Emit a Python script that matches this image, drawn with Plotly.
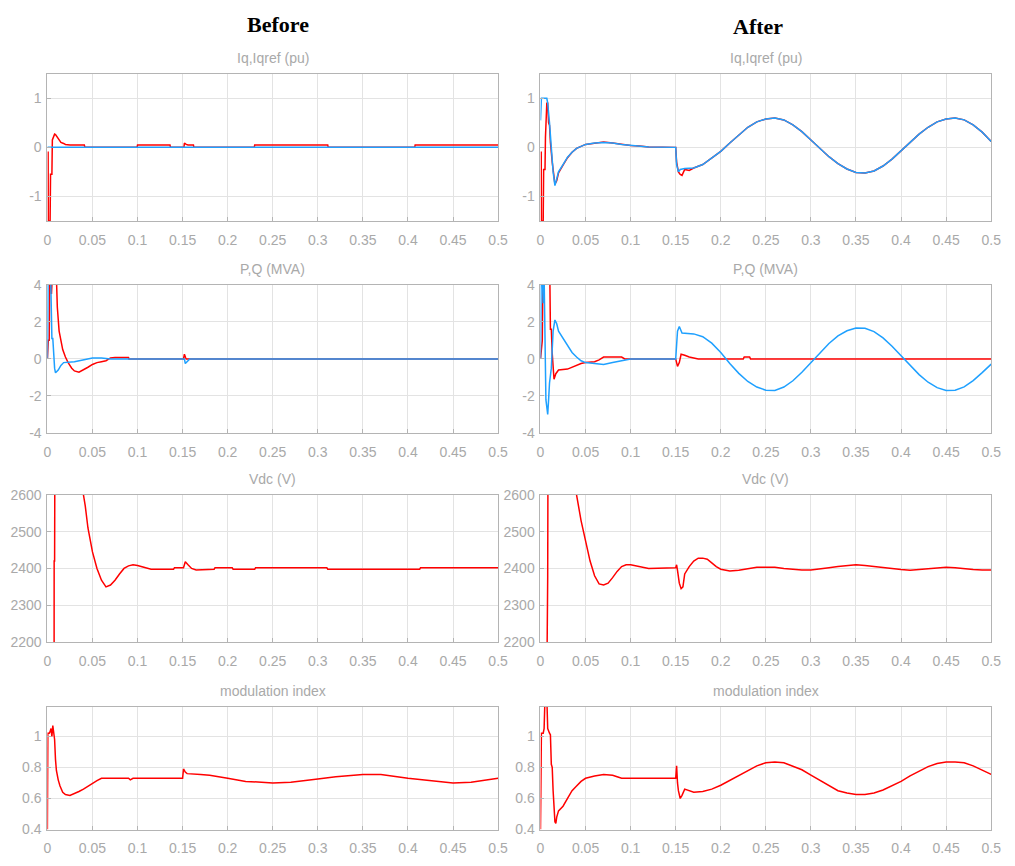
import plotly.graph_objects as go

RED = "#ff0000"
BLUE = "#1ea0ff"
GRID = "#e3e3e3"
FRAME = "#b4b4b4"
TXT = "#a9a9a9"
FONT = "Liberation Sans Narrow, Arial Narrow, Liberation Sans, Arial"

# ---------------- Before: Iq, Iqref ----------------
t_iq_b = [0, 0.0008, 0.001, 0.003, 0.0035, 0.004, 0.005, 0.0055, 0.006, 0.007, 0.008, 0.009,
          0.011, 0.013, 0.015, 0.018, 0.02, 0.025, 0.03, 0.041, 0.0415,
          0.0995, 0.1, 0.136, 0.1365, 0.1515, 0.152, 0.154, 0.156, 0.162, 0.1625,
          0.2295, 0.23, 0.311, 0.3115, 0.4075, 0.408, 0.5]
iq_b = [-0.1, -0.1, -1.5, -1.5, -0.55, -0.55, -0.55, 0.15, 0.18, 0.22, 0.27, 0.26,
        0.2, 0.14, 0.1, 0.08, 0.06, 0.05, 0.05, 0.05, 0.0,
        0.0, 0.05, 0.05, 0.0, 0.0, 0.09, 0.06, 0.05, 0.05, 0.0,
        0.0, 0.05, 0.05, 0.0, 0.0, 0.05, 0.05]
t_iqref_b = [0, 0.5]
iqref_b = [0, 0]

# ---------------- After: Iq, Iqref ----------------
t_iqref_a = [0, 0.001, 0.007, 0.008, 0.01, 0.012, 0.014, 0.016, 0.018, 0.02, 0.025, 0.03,
             0.035, 0.04, 0.05, 0.06, 0.07, 0.08, 0.09, 0.1, 0.11, 0.12, 0.15,
             0.151, 0.153, 0.155, 0.16, 0.17, 0.18, 0.19, 0.2, 0.21, 0.22, 0.23, 0.24,
             0.25, 0.26, 0.27, 0.28, 0.29, 0.3, 0.31, 0.32, 0.33, 0.34, 0.35, 0.36, 0.37,
             0.38, 0.39, 0.4, 0.41, 0.42, 0.43, 0.44, 0.45, 0.46, 0.47, 0.48, 0.49, 0.5]
iqref_a = [0.55, 1.0, 1.0, 0.9, 0.5, 0.0, -0.5, -0.78, -0.65, -0.5, -0.35, -0.2,
           -0.1, -0.02, 0.06, 0.09, 0.1, 0.09, 0.06, 0.04, 0.02, 0.01, 0.0,
           -0.35, -0.5, -0.45, -0.43, -0.42, -0.35, -0.22, -0.08, 0.09, 0.26, 0.41, 0.52,
           0.58, 0.6, 0.56, 0.46, 0.32, 0.15, -0.02, -0.19, -0.33, -0.44, -0.51, -0.52, -0.48,
           -0.38, -0.24, -0.07, 0.1, 0.27, 0.41, 0.52, 0.58, 0.6, 0.56, 0.46, 0.31, 0.12]
t_iq_a = [0, 0.0008, 0.001, 0.003, 0.0035, 0.005, 0.0055, 0.007, 0.008, 0.009, 0.01, 0.011,
          0.013, 0.015, 0.016, 0.018, 0.02, 0.025, 0.03, 0.035, 0.04, 0.05, 0.06, 0.07,
          0.08, 0.09, 0.1, 0.11, 0.12, 0.15, 0.151, 0.153, 0.155, 0.157, 0.16, 0.165, 0.17,
          0.18, 0.19, 0.2, 0.21, 0.22, 0.23, 0.24, 0.25, 0.26, 0.27, 0.28, 0.29, 0.3, 0.31,
          0.32, 0.33, 0.34, 0.35, 0.36, 0.37, 0.38, 0.39, 0.4, 0.41, 0.42, 0.43, 0.44,
          0.45, 0.46, 0.47, 0.48, 0.49, 0.5]
iq_a = [-0.1, -0.1, -1.5, -1.5, -0.45, -0.45, 0.2, 0.9, 0.9, 0.5, 0.45, 0.1,
        -0.3, -0.65, -0.75, -0.68, -0.52, -0.36, -0.21, -0.1, -0.02, 0.06, 0.09, 0.11,
        0.09, 0.06, 0.04, 0.03, 0.01, 0.0, -0.3, -0.5, -0.55, -0.57, -0.45, -0.47, -0.42,
        -0.35, -0.22, -0.08, 0.09, 0.26, 0.41, 0.52, 0.58, 0.6, 0.56, 0.46, 0.32, 0.15,
        -0.02, -0.19, -0.33, -0.44, -0.51, -0.52, -0.48, -0.38, -0.24, -0.07, 0.1, 0.27,
        0.41, 0.52, 0.58, 0.6, 0.56, 0.46, 0.31, 0.12]

# ---------------- Before: P, Q ----------------
t_p_b = [0, 0.001, 0.002, 0.003, 0.0045, 0.0055, 0.007, 0.009, 0.01, 0.011, 0.013, 0.015,
         0.017, 0.02, 0.023, 0.027, 0.03, 0.035, 0.04, 0.045, 0.05, 0.055, 0.06, 0.065,
         0.07, 0.075, 0.09, 0.0905, 0.151, 0.152, 0.1535, 0.154, 0.5]
p_b = [0, 1.0, 1.0, 6.0, 3.5, 6.0, 6.0, 6.0, 4.0, 2.8, 1.5, 0.9,
       0.5, 0.1, -0.2, -0.5, -0.65, -0.72, -0.6, -0.45, -0.3, -0.2, -0.15, -0.1,
       0.05, 0.08, 0.08, 0.0, 0.0, 0.25, 0.05, 0.0, 0.0]
t_q_b = [0, 0.001, 0.003, 0.004, 0.005, 0.006, 0.007, 0.008, 0.009, 0.012, 0.015, 0.018,
         0.03, 0.04, 0.05, 0.06, 0.07, 0.152, 0.153, 0.156, 0.158, 0.5]
q_b = [0, 6.0, 6.0, 3.3, 1.1, 1.1, 0.2, -0.5, -0.75, -0.6, -0.35, -0.2,
       -0.15, -0.05, 0.05, 0.05, 0.0, 0.0, -0.25, -0.1, 0.0, 0.0]

# ---------------- After: P, Q ----------------
t_p_a = [0, 0.0015, 0.002, 0.003, 0.01, 0.011, 0.012, 0.013, 0.014, 0.015, 0.017, 0.02,
         0.03, 0.035, 0.04, 0.045, 0.05, 0.06, 0.065, 0.07, 0.09, 0.0935, 0.15, 0.152,
         0.154, 0.156, 0.16, 0.165, 0.17, 0.175, 0.225, 0.226, 0.232, 0.233, 0.5]
p_a = [0, 1.0, 1.0, 6.0, 6.0, 1.6, 1.6, 0.3, -0.5, -1.1, -0.8, -0.6,
       -0.55, -0.45, -0.35, -0.25, -0.2, -0.15, -0.05, 0.1, 0.1, 0.0, 0.0, -0.4,
       -0.2, 0.25, 0.2, 0.1, 0.05, 0.0, 0.0, 0.1, 0.1, 0.0, 0.0]
t_q_a = [0, 0.001, 0.003, 0.004, 0.006, 0.008, 0.009, 0.01, 0.012, 0.014, 0.016, 0.018,
         0.02, 0.025, 0.03, 0.035, 0.04, 0.045, 0.05, 0.06, 0.07, 0.08, 0.09, 0.1, 0.15,
         0.152, 0.154, 0.157, 0.17, 0.18, 0.19, 0.2, 0.21, 0.22, 0.23, 0.24, 0.25, 0.26,
         0.27, 0.28, 0.29, 0.3, 0.31, 0.32, 0.33, 0.34, 0.35, 0.36, 0.37, 0.38, 0.39, 0.4,
         0.41, 0.42, 0.43, 0.44, 0.45, 0.46, 0.47, 0.48, 0.49, 0.5]
q_a = [0, 6.0, 3.0, 4.5, -2.2, -3.0, -2.2, -1.3, -0.5, 1.5, 2.1, 1.9,
       1.5, 1.1, 0.7, 0.35, 0.1, -0.1, -0.2, -0.25, -0.3, -0.2, -0.1, 0.0, 0.0,
       1.5, 1.75, 1.4, 1.35, 1.2, 0.85, 0.35, -0.25, -0.78, -1.22, -1.52, -1.69, -1.7,
       -1.52, -1.18, -0.72, -0.2, 0.33, 0.83, 1.24, 1.52, 1.67, 1.65, 1.47, 1.13, 0.68,
       0.17, -0.36, -0.85, -1.26, -1.55, -1.7, -1.69, -1.51, -1.17, -0.74, -0.28]

# ---------------- Before: Vdc ----------------
t_vdc_b = [0, 0.007, 0.0075, 0.008, 0.0085, 0.02, 0.035, 0.04, 0.042, 0.045, 0.05, 0.055,
           0.06, 0.065, 0.07, 0.075, 0.08, 0.085, 0.09, 0.095, 0.1, 0.11, 0.115, 0.14,
           0.141, 0.151, 0.153, 0.156, 0.16, 0.165, 0.175, 0.176, 0.185, 0.186, 0.205,
           0.206, 0.23, 0.231, 0.31, 0.311, 0.413, 0.414, 0.5]
vdc_b = [0, 0, 2420, 2420, 2900, 3000, 2750, 2600, 2570, 2510, 2445, 2400,
         2368, 2350, 2355, 2368, 2385, 2400, 2407, 2410, 2408, 2402, 2398, 2398,
         2402, 2402, 2418, 2410, 2400, 2396, 2396, 2398, 2398, 2402, 2402,
         2398, 2398, 2402, 2402, 2398, 2398, 2402, 2402]

# ---------------- After: Vdc ----------------
t_vdc_a = [0, 0.007, 0.0075, 0.008, 0.0085, 0.02, 0.035, 0.04, 0.045, 0.05, 0.055, 0.06,
           0.065, 0.07, 0.075, 0.08, 0.085, 0.09, 0.095, 0.1, 0.11, 0.12, 0.15, 0.151,
           0.152, 0.154, 0.156, 0.158, 0.16, 0.165, 0.17, 0.175, 0.18, 0.185, 0.19, 0.195,
           0.2, 0.21, 0.22, 0.23, 0.24, 0.25, 0.26, 0.27, 0.28, 0.29, 0.3, 0.31, 0.32,
           0.33, 0.34, 0.35, 0.36, 0.37, 0.38, 0.39, 0.4, 0.41, 0.42, 0.43, 0.44, 0.45,
           0.46, 0.47, 0.48, 0.49, 0.5]
vdc_a = [0, 0, 2380, 2380, 2900, 3000, 2750, 2600, 2530, 2470, 2420, 2380,
         2358, 2355, 2360, 2375, 2392, 2405, 2410, 2410, 2405, 2400, 2402, 2410,
         2395, 2360, 2345, 2350, 2385, 2405, 2420, 2428, 2428, 2425, 2415, 2405,
         2398, 2393, 2395, 2400, 2403, 2403, 2403, 2400, 2397, 2396, 2396, 2398, 2402,
         2405, 2407, 2410, 2408, 2405, 2402, 2398, 2397, 2395, 2397, 2400, 2403, 2403,
         2402, 2399, 2397, 2396, 2396]

# ---------------- Before: modulation index ----------------
t_m_b = [0, 0.0005, 0.002, 0.003, 0.004, 0.005, 0.006, 0.007, 0.008, 0.009, 0.01, 0.012,
         0.014, 0.017, 0.02, 0.025, 0.03, 0.035, 0.04, 0.045, 0.05, 0.055, 0.06, 0.09,
         0.092, 0.095, 0.15, 0.151, 0.153, 0.155, 0.17, 0.18, 0.2, 0.22, 0.25, 0.27,
         0.3, 0.32, 0.35, 0.37, 0.4, 0.43, 0.45, 0.47, 0.5]
m_b = [0.4, 1.02, 1.02, 1.03, 1.05, 1.0, 1.07, 1.0, 0.98, 0.85, 0.78, 0.72,
       0.68, 0.64, 0.625, 0.62, 0.63, 0.645, 0.66, 0.68, 0.7, 0.715, 0.73, 0.73,
       0.72, 0.73, 0.73, 0.79, 0.77, 0.76, 0.755, 0.75, 0.73, 0.71, 0.7, 0.705,
       0.725, 0.74, 0.755, 0.755, 0.73, 0.71, 0.7, 0.705, 0.73]

# ---------------- After: modulation index ----------------
t_m_a = [0, 0.001, 0.003, 0.004, 0.005, 0.007, 0.0075, 0.008, 0.01, 0.011, 0.012, 0.013,
         0.014, 0.015, 0.016, 0.017, 0.018, 0.02, 0.025, 0.03, 0.035, 0.04, 0.045, 0.05,
         0.06, 0.07, 0.08, 0.085, 0.09, 0.15, 0.1505, 0.151, 0.152, 0.153, 0.155, 0.157,
         0.16, 0.165, 0.17, 0.18, 0.19, 0.2, 0.21, 0.22, 0.23, 0.24, 0.25, 0.26, 0.27,
         0.28, 0.29, 0.3, 0.31, 0.32, 0.33, 0.34, 0.35, 0.36, 0.37, 0.38, 0.39, 0.4,
         0.41, 0.42, 0.43, 0.44, 0.45, 0.46, 0.47, 0.48, 0.49, 0.5]
m_a = [0.4, 1.02, 1.02, 1.05, 1.25, 1.25, 1.15, 1.05, 1.02, 1.01, 0.82, 0.8,
       0.65, 0.55, 0.45, 0.44, 0.48, 0.52, 0.55, 0.6, 0.65, 0.68, 0.71, 0.73,
       0.745, 0.755, 0.75, 0.74, 0.73, 0.73, 0.81, 0.81, 0.7, 0.65, 0.6, 0.62,
       0.66, 0.65, 0.64, 0.645, 0.66, 0.685, 0.715, 0.75, 0.78, 0.81, 0.83, 0.835, 0.83,
       0.81, 0.785, 0.75, 0.715, 0.68, 0.65, 0.635, 0.625, 0.625, 0.635, 0.655, 0.68, 0.71,
       0.745, 0.775, 0.805, 0.825, 0.835, 0.835, 0.83, 0.81, 0.785, 0.755]

# ---------------- Axes ----------------
x_ticks = [0, 0.05, 0.1, 0.15, 0.2, 0.25, 0.3, 0.35, 0.4, 0.45, 0.5]
x_tick_text = ["0", "0.05", "0.1", "0.15", "0.2", "0.25", "0.3", "0.35", "0.4", "0.45", "0.5"]

W, H = 1015, 866
col_px = [(44, 501), (544, 1001)]
row_px = [(67, 217), (282, 433), (496, 646), (712, 837)]
row_titles = ["Iq,Iqref (pu)", "P,Q (MVA)", "Vdc (V)", "modulation index"]
row_ranges = [[-1.5, 1.5], [-4, 4], [2200, 2600], [0.4, 1.19]]
row_ticks = [[-1, 0, 1], [-4, -2, 0, 2, 4], [2200, 2300, 2400, 2500, 2600], [0.4, 0.6, 0.8, 1]]
row_tick_text = [["-1", "0", "1"], ["-4", "-2", "0", "2", "4"],
                 ["2200", "2300", "2400", "2500", "2600"], ["0.4", "0.6", "0.8", "1"]]

panels = {
    (0, 0): [(t_iq_b, iq_b, RED), (t_iqref_b, iqref_b, BLUE)],
    (0, 1): [(t_iq_a, iq_a, RED), (t_iqref_a, iqref_a, BLUE)],
    (1, 0): [(t_p_b, p_b, RED), (t_q_b, q_b, BLUE)],
    (1, 1): [(t_p_a, p_a, RED), (t_q_a, q_a, BLUE)],
    (2, 0): [(t_vdc_b, vdc_b, RED)],
    (2, 1): [(t_vdc_a, vdc_a, RED)],
    (3, 0): [(t_m_b, m_b, RED)],
    (3, 1): [(t_m_a, m_a, RED)],
}

fig = go.Figure()
layout = dict(
    width=W, height=H, margin=dict(l=0, r=0, t=0, b=0),
    paper_bgcolor="white", plot_bgcolor="white", showlegend=False,
    font=dict(family=FONT, color=TXT, size=14),
)
annotations = []

idx = 0
for r in range(4):
    for c in range(2):
        idx += 1
        xa = "xaxis" if idx == 1 else f"xaxis{idx}"
        ya = "yaxis" if idx == 1 else f"yaxis{idx}"
        xref = "x" if idx == 1 else f"x{idx}"
        yref = "y" if idx == 1 else f"y{idx}"
        x0, x1 = col_px[c]
        y0, y1 = row_px[r]
        layout[xa] = dict(
            domain=[x0 / W, x1 / W], anchor=yref, range=[0, 0.5],
            tickvals=x_ticks, ticktext=x_tick_text, showgrid=True, gridcolor=GRID,
            gridwidth=1, zeroline=False, showline=True, linecolor=FRAME, linewidth=1,
            mirror=True, ticks="inside", ticklen=4, tickcolor=FRAME,
            ticklabelstandoff=6,
            tickfont=dict(family=FONT, color=TXT, size=14),
        )
        layout[ya] = dict(
            domain=[1 - y1 / H, 1 - y0 / H], anchor=xref, range=row_ranges[r],
            tickvals=row_ticks[r], ticktext=row_tick_text[r], showgrid=True, gridcolor=GRID,
            gridwidth=1, zeroline=False, showline=True, linecolor=FRAME, linewidth=1,
            mirror=True, ticks="inside", ticklen=4, tickcolor=FRAME,
            ticklabelstandoff=2,
            tickfont=dict(family=FONT, color=TXT, size=14),
        )
        for tx, ty, color in panels[(r, c)]:
            fig.add_trace(go.Scatter(
                x=tx, y=ty, mode="lines", xaxis=xref, yaxis=yref,
                line=dict(color=color, width=1.5, shape="linear"),
                hoverinfo="skip", cliponaxis=True,
            ))
        annotations.append(dict(
            text=row_titles[r], x=(x0 + x1) / 2 / W, y=1 - (y0 - 6) / H,
            xref="paper", yref="paper", xanchor="center", yanchor="bottom",
            showarrow=False, font=dict(family=FONT, color=TXT, size=14),
        ))

annotations.append(dict(
    text="<b>Before</b>", x=278 / W, y=1 - 17 / H, xref="paper", yref="paper",
    xanchor="center", yanchor="middle", showarrow=False,
    font=dict(family="Liberation Serif, Times New Roman, serif", color="black", size=22),
))
annotations.append(dict(
    text="<b>After</b>", x=765 / W, y=1 - 19 / H, xref="paper", yref="paper",
    xanchor="center", yanchor="middle", showarrow=False,
    font=dict(family="Liberation Serif, Times New Roman, serif", color="black", size=22),
))
layout["annotations"] = annotations
fig.update_layout(**layout)

fig.write_html("out.html")
